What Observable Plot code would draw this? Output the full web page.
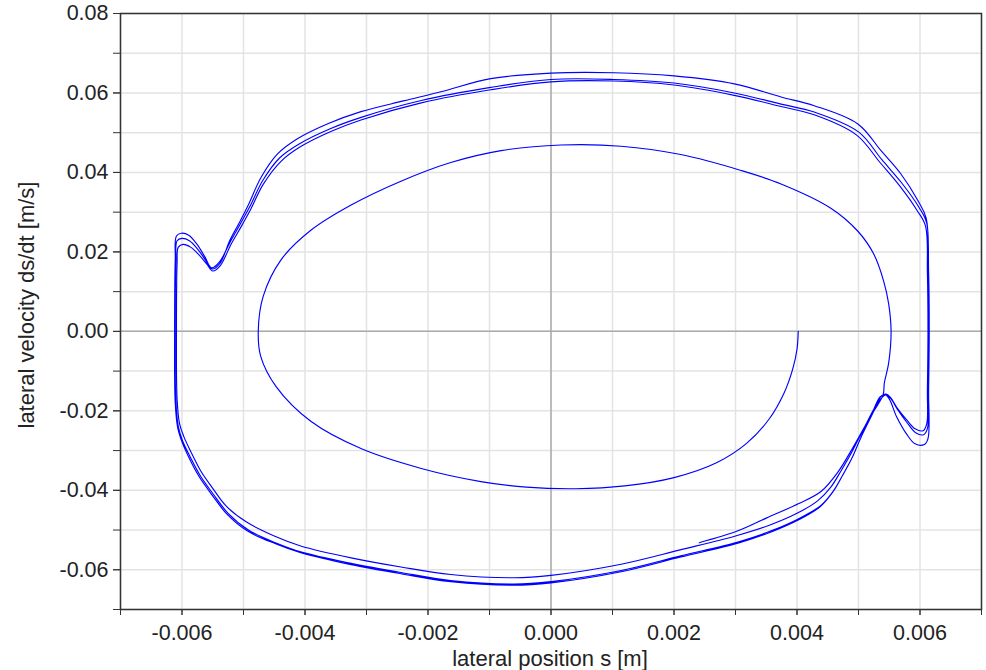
<!DOCTYPE html>
<html><head><meta charset="utf-8">
<script src="https://cdn.jsdelivr.net/npm/d3@7"></script>
<script src="https://cdn.jsdelivr.net/npm/@observablehq/plot@0.6"></script>
<style>
body{margin:0;background:#fff;font-family:"Liberation Sans",Arial,sans-serif;}
#wrap{position:relative;width:986px;height:670px;overflow:hidden;}
.lab{position:absolute;font-size:22px;line-height:20px;color:#222;white-space:nowrap;text-align:center;}
</style></head><body>
<div id="wrap"></div>
<script>
// ---- data (lateral position s [m], lateral velocity ds/dt [m/s]) ----
const xLabel = "lateral position s [m]";
const yLabel = "lateral velocity ds/dt [m/s]";
const xTicks = [-0.007,-0.006,-0.005,-0.004,-0.003,-0.002,-0.001,0,0.001,0.002,0.003,0.004,0.005,0.006,0.007];
const xLabelTicks = [-0.006,-0.004,-0.002,0,0.002,0.004,0.006];
const yTicks = [-0.07,-0.06,-0.05,-0.04,-0.03,-0.02,-0.01,0,0.01,0.02,0.03,0.04,0.05,0.06,0.07,0.08];
const yLabelTicks = [-0.06,-0.04,-0.02,0,0.02,0.04,0.06,0.08];

// first (inner) revolution of the trajectory
const innerSpiral = [
[0.00402,0.0000],[0.00400,-0.0045],[0.00393,-0.0095],[0.00379,-0.0155],[0.00355,-0.0220],
[0.00318,-0.0282],[0.00270,-0.0330],[0.00200,-0.0368],[0.00120,-0.0389],[0.00040,-0.0396],
[-0.00040,-0.0392],[-0.00114,-0.0378],[-0.00211,-0.0345],[-0.00309,-0.0295],[-0.00390,-0.0227],
[-0.00447,-0.0139],[-0.00472,-0.0063],[-0.00476,0.0000],[-0.00468,0.0088],[-0.00439,0.0180],
[-0.00390,0.0255],[-0.00325,0.0318],[-0.00244,0.0378],[-0.00163,0.0425],[-0.00081,0.0455],
[0.00016,0.0469],[0.00114,0.0466],[0.00211,0.0445],[0.00309,0.0405],[0.00374,0.0371],
[0.00455,0.0310],[0.00499,0.0252],[0.00525,0.0194],[0.00541,0.0126],[0.00549,0.0070],
[0.00553,0.0000],[0.00549,-0.0080],[0.00542,-0.0130]
];
// outer (impact) cycles
const loop1 = [
[0.00540,-0.0160],[0.00524,-0.0203],[0.00503,-0.0262],[0.00487,-0.0310],[0.00472,-0.0350],
[0.00455,-0.0392],[0.00434,-0.0426],[0.00400,-0.0458],[0.00355,-0.0488],[0.00300,-0.0515],
[0.00210,-0.0550],[0.00114,-0.0586],[0.00000,-0.0614],[-0.00060,-0.0620],[-0.00163,-0.0612],
[-0.00244,-0.0593],[-0.00325,-0.0570],[-0.00407,-0.0540],[-0.00450,-0.0515],
[-0.00495,-0.0480],[-0.00528,-0.0440],[-0.00550,-0.0395],[-0.00570,-0.0350],[-0.00585,-0.0305],
[-0.00597,-0.0265],[-0.00604,-0.0232],[-0.00608,-0.0170],[-0.00609,0.0000],[-0.00608,0.0170],
[-0.00606,0.0212],[-0.00598,0.0219],[-0.00586,0.0212],[-0.00572,0.0192],[-0.00560,0.0170],
[-0.00550,0.0152],[-0.00538,0.0165],
[-0.00520,0.0220],[-0.00504,0.0263],[-0.00488,0.0308],[-0.00468,0.0370],[-0.00439,0.0428],
[-0.00407,0.0465],[-0.00358,0.0503],[-0.00309,0.0532],[-0.00211,0.0575],[-0.00098,0.0608],
[0.00000,0.0628],[0.00102,0.0630],[0.00200,0.0620],[0.00298,0.0594],[0.00374,0.0566],
[0.00428,0.0545],[0.00497,0.0494],[0.00535,0.0425],[0.00567,0.0366],[0.00595,0.0305],
[0.00609,0.0265],[0.00612,0.0150],[0.00613,0.0000],[0.00612,-0.0150],[0.00611,-0.0232],
[0.00605,-0.0250],[0.00592,-0.0245],[0.00578,-0.0222],[0.00563,-0.0193],[0.00552,-0.0166],
[0.00545,-0.0158]
];
const loop2 = [
[0.00537,-0.0163],[0.00523,-0.0207],[0.00504,-0.0267],[0.00490,-0.0317],[0.00476,-0.0357],
[0.00459,-0.0402],[0.00439,-0.0438],[0.00402,-0.0472],[0.00358,-0.0502],[0.00304,-0.0530],
[0.00211,-0.0565],[0.00114,-0.0602],[0.00000,-0.0630],[-0.00060,-0.0636],[-0.00163,-0.0627],
[-0.00244,-0.0607],[-0.00325,-0.0584],[-0.00407,-0.0555],[-0.00448,-0.0532],
[-0.00492,-0.0500],[-0.00525,-0.0458],[-0.00549,-0.0410],[-0.00570,-0.0364],[-0.00586,-0.0318],
[-0.00599,-0.0276],[-0.00606,-0.0240],[-0.00610,-0.0175],[-0.00611,0.0000],[-0.00610,0.0175],
[-0.00608,0.0228],[-0.00600,0.0234],[-0.00588,0.0228],[-0.00574,0.0206],[-0.00562,0.0180],
[-0.00551,0.0157],[-0.00538,0.0172],
[-0.00522,0.0230],[-0.00506,0.0276],[-0.00491,0.0322],[-0.00472,0.0386],[-0.00445,0.0446],
[-0.00413,0.0484],[-0.00362,0.0523],[-0.00309,0.0553],[-0.00240,0.0580],[-0.00179,0.0603],
[-0.00098,0.0636],[0.00000,0.0650],[0.00102,0.0651],[0.00200,0.0643],[0.00298,0.0623],
[0.00374,0.0590],[0.00428,0.0568],[0.00499,0.0522],[0.00537,0.0454],[0.00569,0.0396],
[0.00597,0.0328],[0.00610,0.0285],[0.00614,0.0150],[0.00615,0.0000],[0.00614,-0.0150],
[0.00613,-0.0270],[0.00607,-0.0285],[0.00592,-0.0283],[0.00578,-0.0258],[0.00562,-0.0215],
[0.00550,-0.0170],[0.00543,-0.0159]
];
const loop3 = [
[0.00535,-0.0165],[0.00521,-0.0210],[0.00503,-0.0270],[0.00489,-0.0320],[0.00475,-0.0360],
[0.00458,-0.0405],[0.00438,-0.0441],[0.00402,-0.0475],[0.00358,-0.0505],[0.00304,-0.0533],
[0.00211,-0.0568],[0.00114,-0.0605],[0.00000,-0.0633],[-0.00060,-0.0639],[-0.00163,-0.0630],
[-0.00244,-0.0610],[-0.00325,-0.0587],[-0.00407,-0.0557],[-0.00449,-0.0534],
[-0.00494,-0.0502],[-0.00527,-0.0460],[-0.00551,-0.0412],[-0.00572,-0.0366],[-0.00588,-0.0320],
[-0.00600,-0.0278],[-0.00607,-0.0242],[-0.00611,-0.0180],[-0.00612,0.0000],[-0.00611,0.0180],
[-0.00609,0.0240],[-0.00601,0.0247],[-0.00589,0.0242],[-0.00576,0.0220],[-0.00563,0.0188],
[-0.00552,0.0160],[-0.00539,0.0175],
[-0.00521,0.0227],[-0.00505,0.0271],[-0.00489,0.0316],[-0.00469,0.0379],[-0.00441,0.0437],
[-0.00408,0.0473],[-0.00359,0.0510],[-0.00310,0.0538],[-0.00211,0.0581],[-0.00098,0.0614],
[0.00000,0.0634],[0.00102,0.0634],[0.00200,0.0625],[0.00298,0.0600],[0.00374,0.0572],
[0.00428,0.0552],[0.00500,0.0502],[0.00538,0.0432],[0.00570,0.0374],[0.00598,0.0313],
[0.00611,0.0272],[0.00613,0.0150],[0.00614,0.0000],[0.00613,-0.0150],[0.00612,-0.0245],
[0.00606,-0.0260],[0.00593,-0.0255],[0.00579,-0.0230],[0.00564,-0.0198],[0.00552,-0.0168],
[0.00544,-0.0160]
];
// last, unfinished pass
const tailArc = [
[0.00530,-0.0183],[0.00510,-0.0240],[0.00490,-0.0295],[0.00467,-0.0353],[0.00439,-0.0403],
[0.00402,-0.0434],[0.00350,-0.0470],[0.00304,-0.0502],[0.00241,-0.0532]
];

const trajectory = [innerSpiral, loop1, loop2, loop3, tailArc].flat().map(([s, v]) => ({s, v}));
const fmtX = d => d.toFixed(3);
const fmtY = d => d.toFixed(2);

const chart = Plot.plot({
  width: 986, height: 670,
  marginLeft: 120, marginRight: 5, marginTop: 13, marginBottom: 61,
  x: {domain: [-0.007, 0.007]},
  y: {domain: [-0.07, 0.08]},
  style: {fontFamily: "'Liberation Sans', Arial, sans-serif", fontSize: "21.5px", color: "#222", background: "#fff"},
  marks: [
    Plot.gridX(xTicks, {stroke: "#e3e3e3", strokeOpacity: 1, strokeWidth: 1.5}),
    Plot.gridY(yTicks, {stroke: "#e3e3e3", strokeOpacity: 1, strokeWidth: 1.5}),
    Plot.ruleX([0], {stroke: "#ababab", strokeWidth: 1.5}),
    Plot.ruleY([0], {stroke: "#ababab", strokeWidth: 1.5}),
    Plot.line(trajectory, {x: "s", y: "v", stroke: "#0000ff", strokeWidth: 1.15, curve: "catmull-rom"}),
    Plot.axisX(xTicks, {tickSize: 6, tickFormat: () => "", label: null, stroke: "#333"}),
    Plot.axisX(xLabelTicks, {tickSize: 6, tickPadding: 9, tickFormat: fmtX, label: null, stroke: "#333"}),
    Plot.axisY(yTicks, {tickSize: 7, tickFormat: () => "", label: null, stroke: "#333"}),
    Plot.axisY(yLabelTicks, {tickSize: 7, tickPadding: 5, tickFormat: fmtY, label: null, stroke: "#333"}),
    Plot.frame({stroke: "#333", strokeWidth: 1.5})
  ]
});
const wrap = document.getElementById("wrap");
wrap.appendChild(chart);

const xl = document.createElement("div");
xl.className = "lab";
xl.textContent = xLabel;
xl.style.left = (550 - 200) + "px";
xl.style.width = "400px";
xl.style.top = "649px";
wrap.appendChild(xl);

const yl = document.createElement("div");
yl.className = "lab";
yl.textContent = yLabel;
yl.style.width = "400px";
yl.style.left = (27 - 200) + "px";
yl.style.top = (305 - 10) + "px";
yl.style.transform = "rotate(-90deg)";
yl.style.transformOrigin = "50% 50%";
wrap.appendChild(yl);
</script>
</body></html>
